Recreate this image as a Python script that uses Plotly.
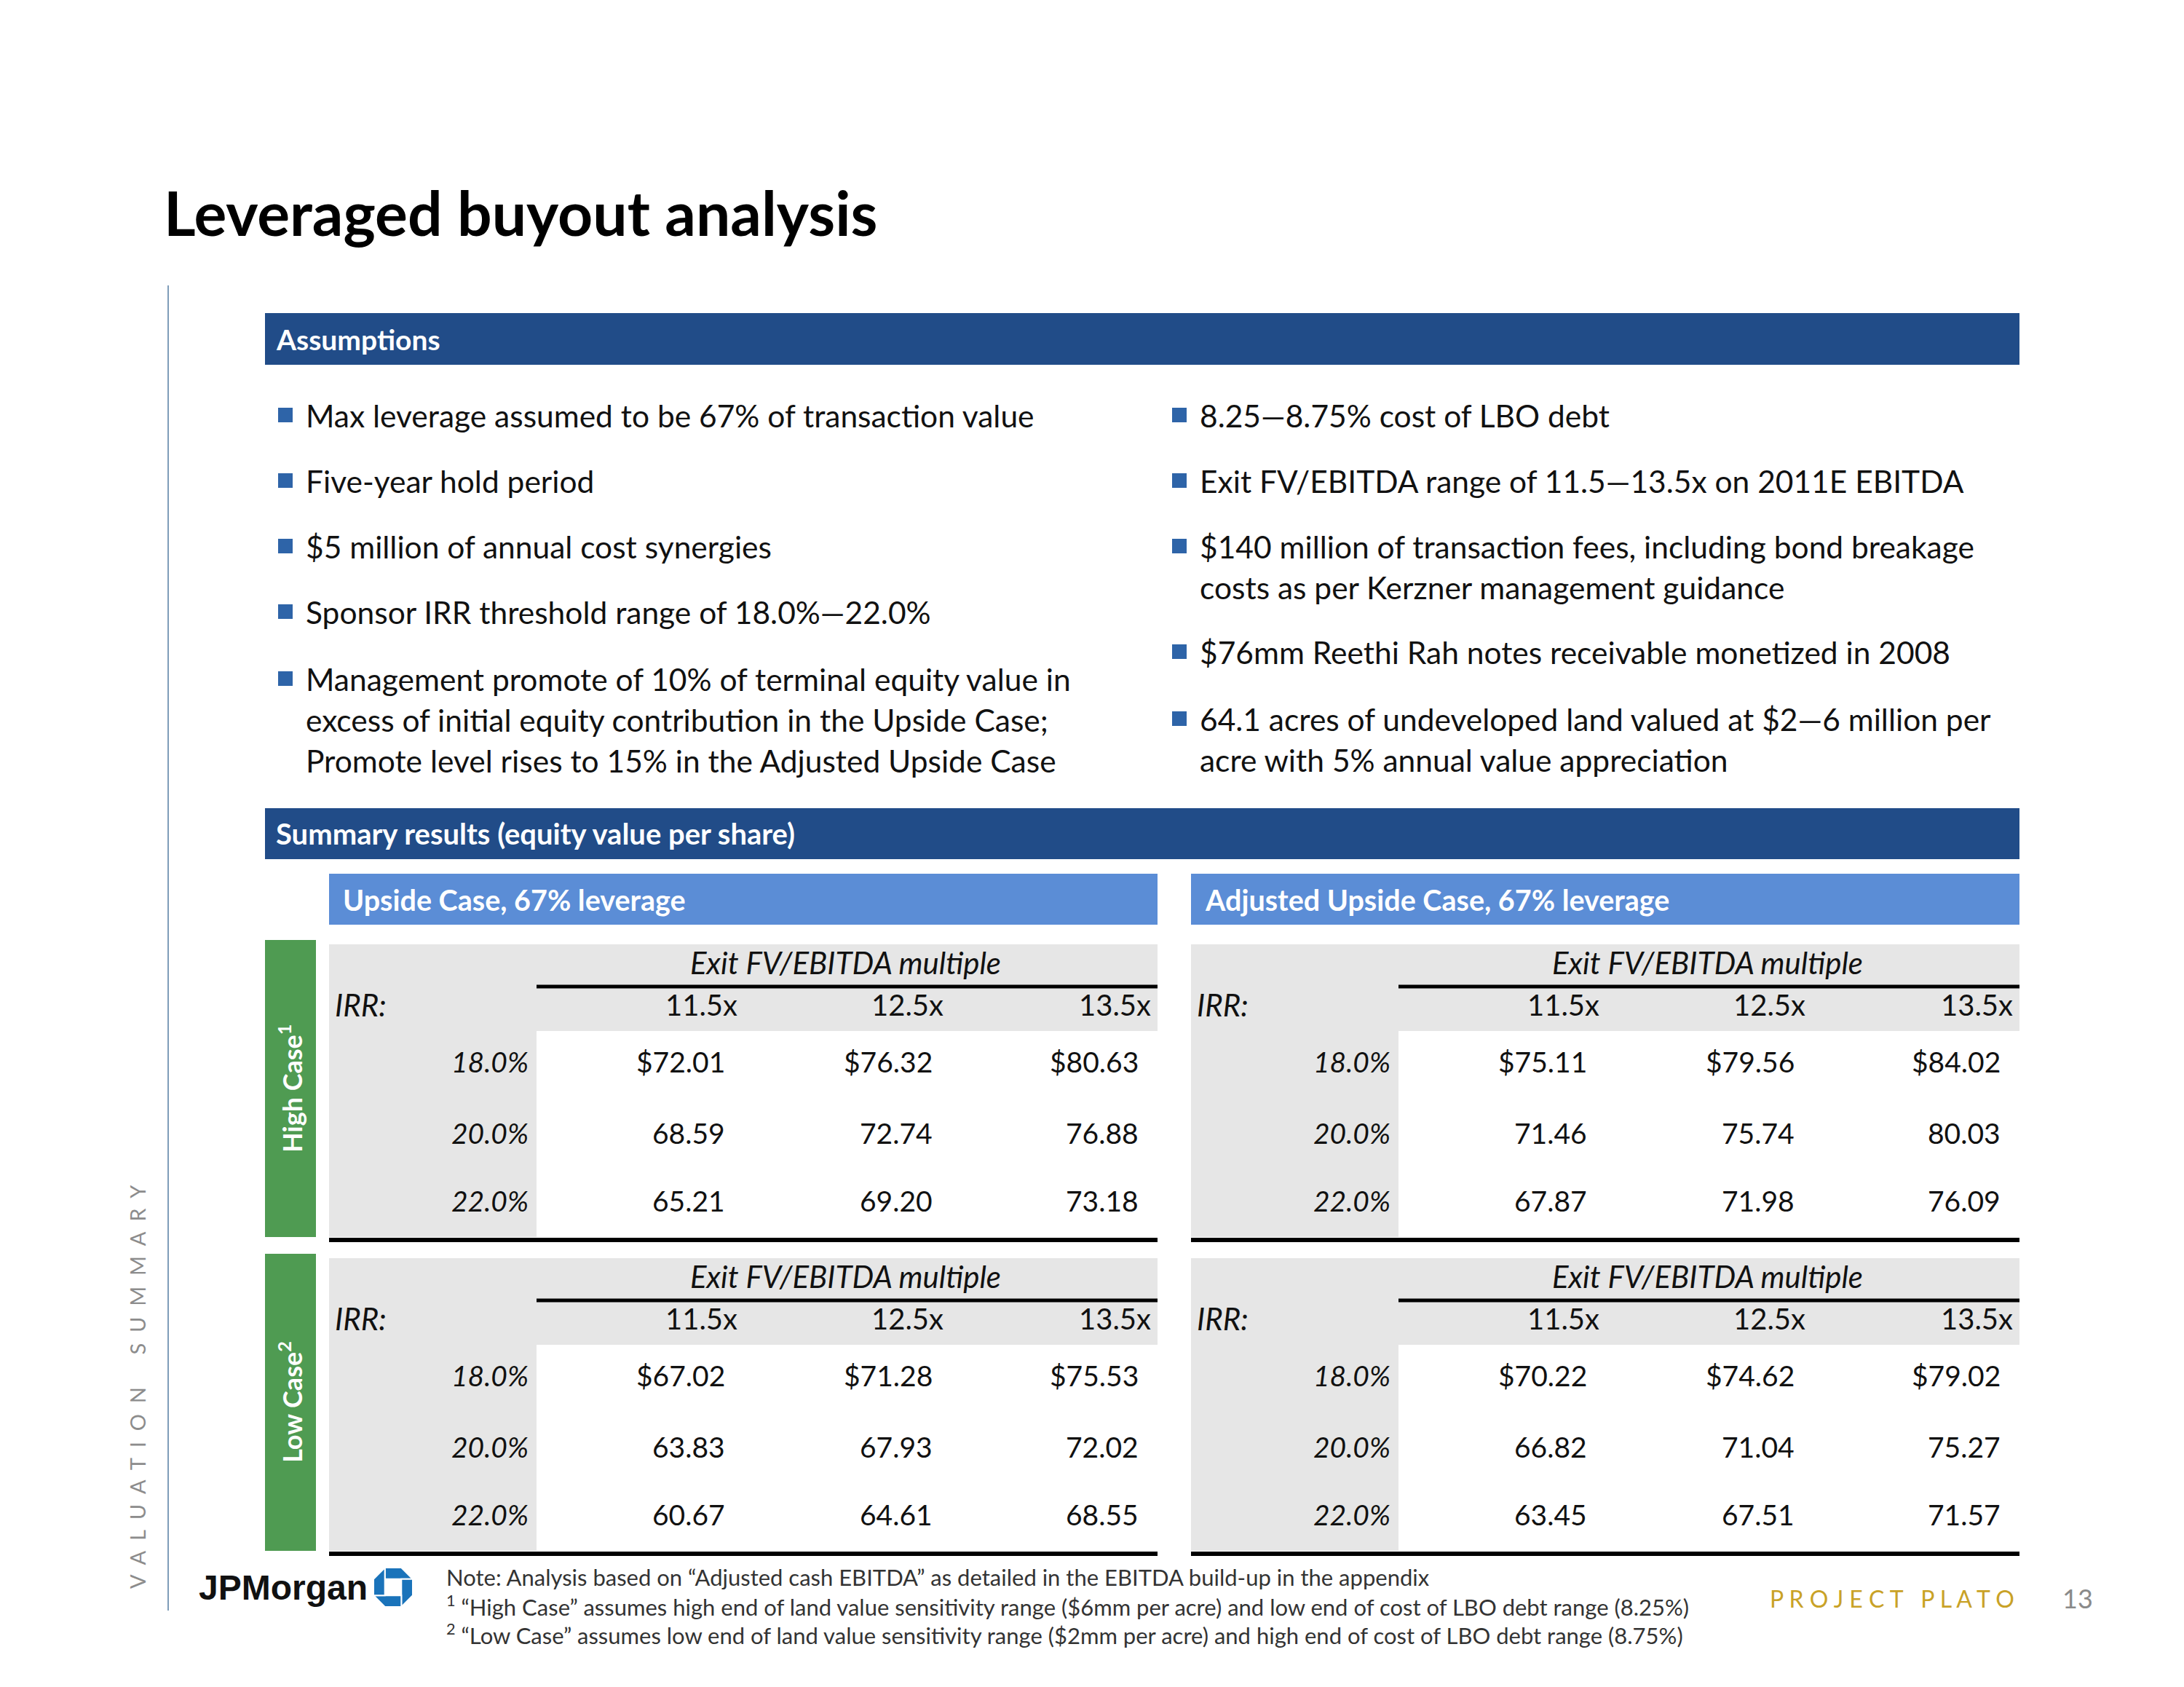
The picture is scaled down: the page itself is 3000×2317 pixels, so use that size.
import plotly.graph_objects as go

# ---------------- data ----------------
title = "Leveraged buyout analysis"
left_bullets = [
    ["Max leverage assumed to be 67% of transaction value"],
    ["Five-year hold period"],
    ["$5 million of annual cost synergies"],
    ["Sponsor IRR threshold range of 18.0%\u201422.0%"],
    ["Management promote of 10% of terminal equity value in",
     "excess of initial equity contribution in the Upside Case;",
     "Promote level rises to 15% in the Adjusted Upside Case"],
]
right_bullets = [
    ["8.25\u20148.75% cost of LBO debt"],
    ["Exit FV/EBITDA range of 11.5\u201413.5x on 2011E EBITDA"],
    ["$140 million of transaction fees, including bond breakage",
     "costs as per Kerzner management guidance"],
    ["$76mm Reethi Rah notes receivable monetized in 2008"],
    ["64.1 acres of undeveloped land valued at $2\u20146 million per",
     "acre with 5% annual value appreciation"],
]
multiples = ["11.5x", "12.5x", "13.5x"]
irr_levels = ["18.0%", "20.0%", "22.0%"]
upside_high = [[72.01, 76.32, 80.63], [68.59, 72.74, 76.88], [65.21, 69.20, 73.18]]
upside_low = [[67.02, 71.28, 75.53], [63.83, 67.93, 72.02], [60.67, 64.61, 68.55]]
adj_high = [[75.11, 79.56, 84.02], [71.46, 75.74, 80.03], [67.87, 71.98, 76.09]]
adj_low = [[70.22, 74.62, 79.02], [66.82, 71.04, 75.27], [63.45, 67.51, 71.57]]
case_titles = ["Upside Case, 67% leverage", "Adjusted Upside Case, 67% leverage"]
row_cases = ["High Case<sup>1</sup>", "Low Case<sup>2</sup>"]
notes = [
    "Note: Analysis based on \u201cAdjusted cash EBITDA\u201d as detailed in the EBITDA build-up in the appendix",
    "<sup>1</sup> \u201cHigh Case\u201d assumes high end of land value sensitivity range ($6mm per acre) and low end of cost of LBO debt range (8.25%)",
    "<sup>2</sup> \u201cLow Case\u201d assumes low end of land value sensitivity range ($2mm per acre) and high end of cost of LBO debt range (8.75%)",
]

# ---------------- style ----------------
W, H = 3000, 2317
OFF = 8  # page body margin
FONT = "Lato"
DARK_BLUE = "#214C88"
LIGHT_BLUE = "#5B8DD6"
GREEN = "#4F9B52"
GRAY = "#E6E6E6"
BULLET = "#2E64A8"
TXT = "#111111"

fig = go.Figure()
fig.add_trace(go.Scatter(x=[0, W], y=[0, H], mode="markers", marker=dict(opacity=0), hoverinfo="skip", showlegend=False))


def rect(x0, y0, x1, y1, color, lw=0, lc=None):
    fig.add_shape(type="rect", x0=x0, y0=y0, x1=x1, y1=y1, xref="x", yref="y",
                  fillcolor=color, line=dict(width=lw, color=lc or color), layer="below")


def line(x0, y0, x1, y1, w, color="#000"):
    fig.add_shape(type="line", x0=x0, y0=y0, x1=x1, y1=y1, xref="x", yref="y",
                  line=dict(width=w, color=color))


def text(x, y, s, size, color=TXT, anchor="left", bold=False, italic=False, angle=0, family=FONT):
    if bold:
        s = "<b>" + s + "</b>"
    if italic:
        s = "<i>" + s + "</i>"
    fig.add_annotation(x=x, y=y, xref="x", yref="y", text=s, showarrow=False,
                       xanchor=anchor, yanchor="middle", textangle=angle,
                       font=dict(size=size, color=color, family=family), borderpad=0)


# title
text(224, 291, title, 84, color="#000", bold=True)
# left vertical rule
line(231, 392, 231, 2212, 2, "#7F9DB9")
# vertical section label
sep = "\u00a0\u00a0"
vlabel = sep.join("VALUATION") + "\u00a0" * 6 + sep.join("SUMMARY")
text(188, 1905, vlabel, 29, color="#8C8C8C", angle=-90, anchor="center")

# Assumptions bar
rect(364, 430, 2774, 501, DARK_BLUE)
text(378, 466, "Assumptions", 39, color="white", bold=True)

# bullets
ys_left = [570, 660, 750, 840, 932]
ys_right = [570, 660, 750, 895, 987]
LS = 56
for ys, bullets, bx in [(ys_left, left_bullets, 392), (ys_right, right_bullets, 1620)]:
    for y, lines in zip(ys, bullets):
        rect(bx - 10, y - 10, bx + 10, y + 10, BULLET)
        for k, ln in enumerate(lines):
            text(bx + 27, y + k * LS, ln, 42.5)

# Summary bar
rect(364, 1110, 2774, 1180, DARK_BLUE)
text(378, 1145, "Summary results (equity value per share)", 40, color="white", bold=True)

# case title bars
case_x = [452, 1636]
for cx, ct in zip(case_x, case_titles):
    rect(cx, 1200, cx + 1138, 1270, LIGHT_BLUE)
    text(cx + 18, 1235, ct, 39.5, color="white", bold=True)

# green row-case bars
row_y = [1291, 1722]
for ry, rc in zip(row_y, row_cases):
    rect(364, ry, 434, ry + 408, GREEN)
    text(399, ry + 204, rc, 36, color="white", bold=True, angle=-90, anchor="center")

# tables
tables = [[upside_high, upside_low], [adj_high, adj_low]]
col_hdr_r = [1014, 1297, 1582]
col_val_r = [997, 1282, 1565]
row_dy = [167, 265, 358]
for ti, cx in enumerate(case_x):
    dx = cx - 452
    for ri, ry in enumerate(row_y):
        dy = ry - 1291
        data = tables[ti][ri]
        # gray header & left column
        rect(452 + dx, 1297 + dy, 1590 + dx, 1416 + dy, GRAY)
        rect(452 + dx, 1297 + dy, 737 + dx, 1699 + dy, GRAY)
        line(737 + dx, 1355 + dy, 1590 + dx, 1355 + dy, 5)
        line(452 + dx, 1703 + dy, 1590 + dx, 1703 + dy, 6)
        text(1161 + dx, 1322 + dy, "Exit FV/EBITDA multiple", 42, italic=True, anchor="center")
        text(459 + dx, 1380 + dy, "IRR:", 42, italic=True)
        for ci, m in enumerate(multiples):
            text(col_hdr_r[ci] + dx, 1380 + dy, m, 40, anchor="right")
        for rj, irr in enumerate(irr_levels):
            yy = 1291 + row_dy[rj] + dy
            text(727 + dx, yy, irr, 39, italic=True, anchor="right")
            for ci in range(3):
                v = data[rj][ci]
                s = ("$" if rj == 0 else "") + f"{v:.2f}"
                text(col_val_r[ci] + dx, yy, s, 39, anchor="right")

# JPMorgan logo
text(272, 2180, "JPMorgan", 48, color="#111", bold=True, family="Arial")
cx0, cy0, r = 540, 2180, 27
a = 0.42
pieces = [[(-a, -1), (a, -1), (1, -a), (-a, -a)],
          [(1, -a), (1, a), (a, 1), (a, -a)],
          [(a, 1), (-a, 1), (-1, a), (a, a)],
          [(-1, a), (-1, -a), (-a, -1), (-a, a)]]
for p in pieces:
    path = "M " + " L ".join(f"{cx0 + px * r:.1f},{cy0 + py * r:.1f}" for px, py in p) + " Z"
    fig.add_shape(type="path", path=path, xref="x", yref="y", fillcolor="#1A73BA",
                  line=dict(width=2, color="white"))

# notes
for k, n in enumerate(notes):
    text(612, 2166 + k * 39, n, 31, color="#333333")

# footer
text(2430, 2195, "\u00a0".join("PROJECT") + "\u00a0\u00a0\u00a0" + "\u00a0".join("PLATO"), 32, color="#C9A227")
text(2832, 2195, "13", 36, color="#8A8A8A")

fig.update_layout(
    width=W, height=H, margin=dict(l=0, r=0, t=0, b=0),
    paper_bgcolor="white", plot_bgcolor="white", showlegend=False,
    xaxis=dict(range=[OFF, W + OFF], visible=False, fixedrange=True),
    yaxis=dict(range=[H + OFF, OFF], visible=False, fixedrange=True),
)
fig.write_html("out.html")
